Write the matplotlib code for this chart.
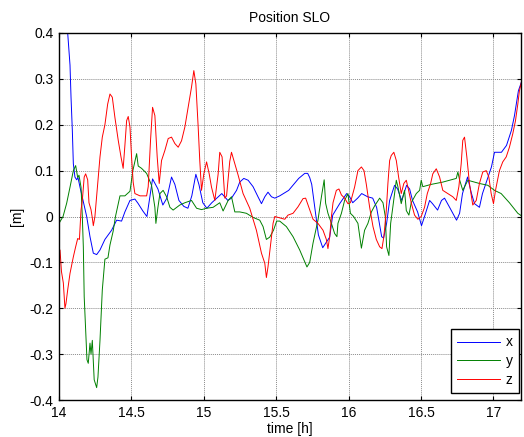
import matplotlib
matplotlib.use("Agg")
import matplotlib.pyplot as plt

plt.rcParams['font.family'] = ['Liberation Sans', 'DejaVu Sans']

title = "Position SLO"
xlabel = "time [h]"
ylabel = "[m]"
labels = ["x", "y", "z"]
x_ticks = [14, 14.5, 15, 15.5, 16, 16.5, 17]
x_tick_labels = ["14", "14.5", "15", "15.5", "16", "16.5", "17"]
y_ticks = [-0.4, -0.3, -0.2, -0.1, 0, 0.1, 0.2, 0.3, 0.4]
y_tick_labels = ["-0.4", "-0.3", "-0.2", "-0.1", "0", "0.1", "0.2", "0.3", "0.4"]

t_x = [14.000, 14.060, 14.076, 14.083, 14.092, 14.099, 14.110, 14.122, 14.131, 14.145,
       14.166, 14.191, 14.214, 14.237, 14.260, 14.283, 14.317, 14.363, 14.398, 14.432,
       14.455, 14.490, 14.524, 14.545, 14.579, 14.607, 14.646, 14.683, 14.717, 14.745,
       14.777, 14.800, 14.828, 14.862, 14.890, 14.917, 14.945, 14.966, 14.993, 15.021,
       15.055, 15.124, 15.166, 15.191, 15.226, 15.248, 15.276, 15.306, 15.340, 15.374,
       15.398, 15.421, 15.443, 15.467, 15.490, 15.524, 15.586, 15.655, 15.697, 15.717,
       15.731, 15.745, 15.766, 15.791, 15.821, 15.848, 15.869, 15.890, 15.938, 15.986,
       16.007, 16.028, 16.062, 16.090, 16.131, 16.166, 16.193, 16.228, 16.241, 16.262,
       16.283, 16.317, 16.338, 16.366, 16.400, 16.421, 16.441, 16.476, 16.503, 16.524,
       16.559, 16.579, 16.614, 16.641, 16.662, 16.697, 16.745, 16.766, 16.786, 16.821,
       16.848, 16.869, 16.903, 16.924, 16.986, 17.007, 17.055, 17.090, 17.124, 17.145,
       17.172, 17.193]
v_x = [0.90, 0.40, 0.33, 0.26, 0.188, 0.115, 0.086, 0.080, 0.085, 0.064,
       0.035, 0.0, -0.044, -0.080, -0.083, -0.073, -0.050, -0.030, -0.008, -0.010,
       0.010, 0.035, 0.038, 0.029, 0.012, 0.0, 0.082, 0.060, 0.025, 0.040,
       0.086, 0.070, 0.035, 0.022, 0.018, 0.045, 0.092, 0.070, 0.030, 0.018,
       0.030, 0.050, 0.035, 0.040, 0.057, 0.075, 0.083, 0.079, 0.065, 0.043,
       0.028, 0.043, 0.053, 0.043, 0.040, 0.045, 0.057, 0.083, 0.094, 0.094,
       0.085, 0.070, 0.020, -0.040, -0.068, -0.055, -0.045, 0.003, 0.028, 0.050,
       0.043, 0.030, 0.040, 0.050, 0.043, 0.040, 0.020, -0.044, -0.047, -0.015,
       0.035, 0.068, 0.060, 0.035, 0.068, 0.060, 0.035, 0.010, -0.020, 0.0,
       0.035, 0.028, 0.014, 0.035, 0.040, 0.020, -0.008, 0.007, 0.050, 0.086,
       0.050, 0.028, 0.020, 0.050, 0.108, 0.140, 0.140, 0.155, 0.188, 0.220,
       0.274, 0.293]

t_y = [14.000, 14.028, 14.053, 14.076, 14.099, 14.115, 14.129, 14.138, 14.152, 14.161,
       14.168, 14.174, 14.184, 14.193, 14.202, 14.214, 14.221, 14.230, 14.243, 14.260,
       14.269, 14.283, 14.299, 14.317, 14.338, 14.352, 14.374, 14.390, 14.421, 14.455,
       14.490, 14.510, 14.536, 14.547, 14.570, 14.605, 14.639, 14.662, 14.669, 14.683,
       14.697, 14.719, 14.743, 14.766, 14.788, 14.834, 14.869, 14.915, 14.950, 14.984,
       15.019, 15.064, 15.110, 15.133, 15.168, 15.191, 15.214, 15.248, 15.294, 15.340,
       15.386, 15.409, 15.432, 15.455, 15.481, 15.503, 15.524, 15.570, 15.616, 15.662,
       15.712, 15.731, 15.754, 15.788, 15.812, 15.831, 15.841, 15.857, 15.881, 15.903,
       15.919, 15.926, 15.950, 15.972, 15.995, 16.012, 16.034, 16.064, 16.088, 16.110,
       16.133, 16.157, 16.179, 16.214, 16.237, 16.253, 16.262, 16.278, 16.290, 16.306,
       16.329, 16.340, 16.363, 16.386, 16.398, 16.416, 16.432, 16.467, 16.490, 16.501,
       16.512, 16.570, 16.650, 16.743, 16.754, 16.766, 16.788, 16.823, 16.903, 16.961,
       17.007, 17.053, 17.110, 17.168, 17.200]
v_y = [-0.015, 0.0, 0.029, 0.064, 0.100, 0.111, 0.085, 0.090, 0.064, 0.0,
       -0.066, -0.175, -0.247, -0.312, -0.320, -0.276, -0.300, -0.270, -0.356, -0.373,
       -0.350, -0.270, -0.160, -0.093, -0.090, -0.062, -0.032, 0.0, 0.045, 0.045,
       0.055, 0.100, 0.137, 0.110, 0.105, 0.094, 0.068, 0.020, -0.015, 0.020,
       0.050, 0.057, 0.043, 0.020, 0.014, 0.025, 0.030, 0.035, 0.018, 0.015,
       0.018, 0.020, 0.030, 0.012, 0.035, 0.043, 0.010, 0.010, 0.007, -0.002,
       -0.008, -0.022, -0.050, -0.045, -0.030, -0.010, -0.010, -0.022, -0.044, -0.073,
       -0.110, -0.100, -0.058, -0.008, 0.043, 0.080, 0.029, 0.007, -0.015, -0.037,
       -0.044, -0.015, 0.007, 0.035, 0.050, 0.007, 0.0, -0.015, -0.069, -0.030,
       -0.015, 0.010, 0.023, 0.040, 0.030, 0.0, -0.066, -0.085, -0.015, 0.023,
       0.079, 0.065, 0.028, 0.057, 0.013, 0.003, 0.030, 0.050, 0.057, 0.079,
       0.065, 0.070, 0.075, 0.083, 0.097, 0.080, 0.057, 0.079, 0.072, 0.068,
       0.057, 0.050, 0.030, 0.007, 0.0]

t_z = [14.000, 14.007, 14.017, 14.030, 14.041, 14.048, 14.060, 14.076, 14.099, 14.115,
       14.129, 14.141, 14.152, 14.161, 14.174, 14.184, 14.198, 14.207, 14.221, 14.230,
       14.237, 14.248, 14.267, 14.283, 14.299, 14.317, 14.336, 14.352, 14.368, 14.386,
       14.409, 14.428, 14.443, 14.455, 14.467, 14.478, 14.490, 14.501, 14.512, 14.524,
       14.559, 14.605, 14.616, 14.632, 14.646, 14.662, 14.678, 14.692, 14.708, 14.731,
       14.754, 14.777, 14.800, 14.823, 14.846, 14.869, 14.892, 14.915, 14.931, 14.945,
       14.961, 14.972, 14.984, 15.000, 15.019, 15.037, 15.053, 15.076, 15.099, 15.110,
       15.126, 15.145, 15.157, 15.179, 15.191, 15.214, 15.237, 15.271, 15.317, 15.363,
       15.398, 15.421, 15.432, 15.443, 15.462, 15.478, 15.490, 15.524, 15.559, 15.581,
       15.616, 15.650, 15.685, 15.703, 15.731, 15.754, 15.788, 15.823, 15.846, 15.857,
       15.869, 15.881, 15.892, 15.915, 15.933, 15.950, 15.972, 15.995, 16.012, 16.041,
       16.064, 16.088, 16.106, 16.122, 16.145, 16.168, 16.191, 16.214, 16.230, 16.243,
       16.260, 16.271, 16.283, 16.294, 16.312, 16.329, 16.345, 16.363, 16.381, 16.398,
       16.414, 16.432, 16.455, 16.478, 16.501, 16.524, 16.543, 16.566, 16.581, 16.605,
       16.628, 16.650, 16.685, 16.719, 16.743, 16.761, 16.777, 16.788, 16.800, 16.816,
       16.834, 16.857, 16.881, 16.903, 16.926, 16.950, 16.968, 16.984, 17.000, 17.014,
       17.041, 17.064, 17.088, 17.110, 17.133, 17.152, 17.168, 17.179, 17.193, 17.207]
v_z = [-0.100, -0.073, -0.120, -0.145, -0.200, -0.190, -0.160, -0.124, -0.088, -0.066,
       -0.048, -0.050, 0.014, 0.035, 0.086, 0.093, 0.080, 0.030, 0.015, -0.003,
       -0.020, 0.0, 0.072, 0.130, 0.173, 0.200, 0.245, 0.267, 0.260, 0.216,
       0.166, 0.130, 0.105, 0.155, 0.209, 0.218, 0.195, 0.130, 0.075, 0.050,
       0.045, 0.045, 0.065, 0.166, 0.238, 0.220, 0.130, 0.072, 0.122, 0.144,
       0.170, 0.173, 0.159, 0.151, 0.165, 0.195, 0.238, 0.282, 0.318, 0.289,
       0.195, 0.122, 0.057, 0.093, 0.119, 0.093, 0.064, 0.035, 0.093, 0.140,
       0.130, 0.040, 0.045, 0.120, 0.140, 0.115, 0.090, 0.050, 0.018, -0.030,
       -0.080, -0.102, -0.133, -0.110, -0.058, -0.015, 0.0, -0.003, -0.006, 0.003,
       0.007, 0.021, 0.039, 0.040, 0.015, -0.006, -0.015, -0.030, -0.050, -0.070,
       -0.044, 0.0, 0.030, 0.057, 0.060, 0.047, 0.040, 0.028, 0.030, 0.064,
       0.100, 0.108, 0.100, 0.070, 0.020, -0.022, -0.050, -0.066, -0.070, -0.044,
       0.014, 0.072, 0.122, 0.133, 0.140, 0.122, 0.086, 0.050, 0.072, 0.079,
       0.057, 0.030, 0.003, -0.006, 0.0, 0.020, 0.050, 0.072, 0.093, 0.104,
       0.086, 0.057, 0.050, 0.043, 0.035, 0.065, 0.115, 0.166, 0.173, 0.130,
       0.072, 0.025, 0.035, 0.072, 0.097, 0.100, 0.086, 0.050, 0.028, 0.057,
       0.100, 0.119, 0.130, 0.151, 0.180, 0.209, 0.245, 0.274, 0.293, 0.257]

fig = plt.figure(figsize=(5.24, 4.37), dpi=100)
ax = fig.add_axes([59/524, 37/437, 462/524, 367/437])

ax.plot(t_x, v_x, color=(0, 0, 1), lw=0.7, label=labels[0])
ax.plot(t_y, v_y, color=(0, 0.5, 0), lw=0.7, label=labels[1])
ax.plot(t_z, v_z, color=(1, 0, 0), lw=0.7, label=labels[2])

ax.set_xlim(14, 17.19)
ax.set_ylim(-0.4, 0.4)
ax.set_xticks(x_ticks)
ax.set_xticklabels(x_tick_labels)
ax.set_yticks(y_ticks)
ax.set_yticklabels(y_tick_labels)
ax.tick_params(direction='in', top=True, right=True, length=3, width=0.8,
               labelsize=10, pad=4)
ax.grid(True, linestyle=(0, (1, 1)), color='0.55', linewidth=0.7)
for s in ax.spines.values():
    s.set_linewidth(1.0)
    s.set_color('black')

ax.set_title(title, fontsize=10, pad=8)
ax.set_xlabel(xlabel, fontsize=10, labelpad=2)
ax.set_ylabel(ylabel, fontsize=10, labelpad=4)

leg = ax.legend(loc='lower right', bbox_to_anchor=(0.995, 0.018), fontsize=10,
                handlelength=3.1, fancybox=False, framealpha=1, edgecolor='black',
                borderaxespad=0.0, labelspacing=0.35, handletextpad=0.4,
                borderpad=0.45)
leg.get_frame().set_linewidth(1.0)

fig.savefig("out.png", dpi=100)
